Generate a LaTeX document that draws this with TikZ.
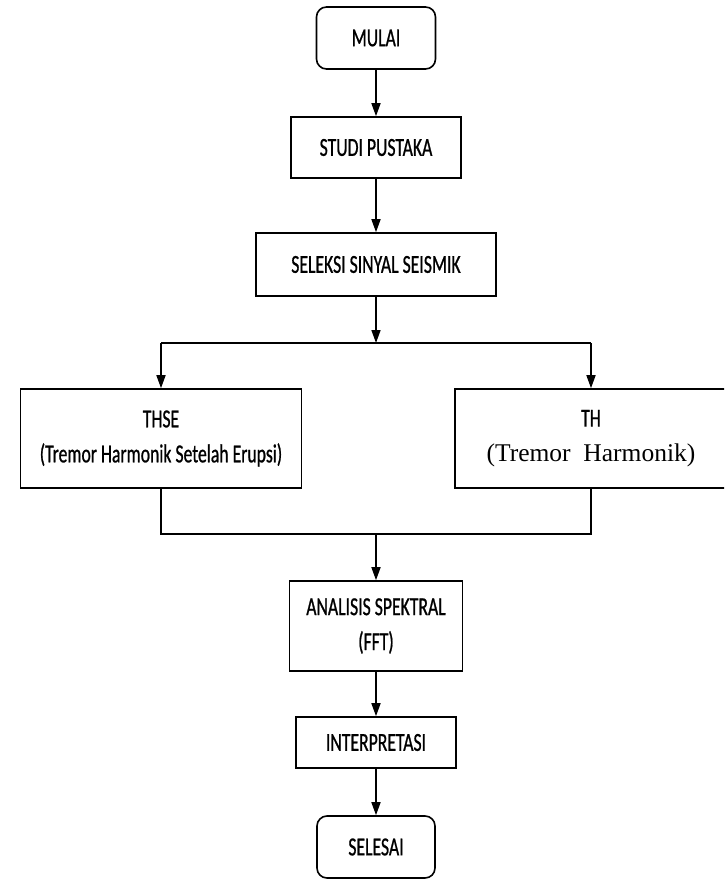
\documentclass[tikz,border=0pt]{standalone}
\usepackage{fontspec}
\setmainfont{Carlito}[FakeStretch=0.68,FakeBold=0.8]
\newfontfamily\timesf{Liberation Serif}
\usetikzlibrary{arrows.meta}
\begin{document}
\begin{tikzpicture}[x=1pt,y=-1pt,
  box/.style={draw, line width=1.6pt, inner sep=0pt, align=center, font=\fontsize{26}{35}\selectfont},
  rbox/.style={box, rounded corners=10pt},
  arr/.style={line width=1.6pt, -{Triangle[width=9pt,length=13pt]}},
  ln/.style={line width=1.6pt}]
\useasboundingbox (0,0) rectangle (724,896);
\clip (0,0) rectangle (724,896);
\node[rbox, minimum width=119pt, minimum height=62pt] (mulai) at (376,38) {MULAI};
\node[box, minimum width=170pt, minimum height=61pt] (studi) at (376,147.5) {STUDI PUSTAKA};
\node[box, minimum width=240pt, minimum height=63pt] (seleksi) at (376,264.5) {SELEKSI SINYAL SEISMIK};
\coordinate (split) at (376,343);
\node[box, minimum width=281pt, minimum height=99pt] (thse) at (161,438.5) {THSE\\(Tremor Harmonik Setelah Erupsi)};
\node[box, minimum width=272pt, minimum height=99pt] (th) at (591,438.5) {TH\\{\timesf\fontsize{25.5}{35}\selectfont (Tremor\ \ Harmonik)}};
\coordinate (merge) at (376,534);
\node[box, minimum width=173pt, minimum height=90pt] (analisis) at (376,626) {ANALISIS SPEKTRAL\\(FFT)};
\node[box, minimum width=160pt, minimum height=51pt] (interp) at (376,742.5) {INTERPRETASI};
\node[rbox, minimum width=118pt, minimum height=62pt] (selesai) at (376,847) {SELESAI};
\draw[arr] (mulai) -- (studi);
\draw[arr] (studi) -- (seleksi);
\draw[arr] (seleksi) -- (split);
\draw[ln] (thse.north |- split) -- (th.north |- split);
\draw[arr] (thse.north |- split) -- (thse.north);
\draw[arr] (th.north |- split) -- (th.north);
\draw[ln] (thse.south) -- (thse.south |- merge) -- (th.south |- merge) -- (th.south);
\draw[arr] (merge) -- (analisis);
\draw[arr] (analisis) -- (interp);
\draw[arr] (interp) -- (selesai);
\end{tikzpicture}
\end{document}
